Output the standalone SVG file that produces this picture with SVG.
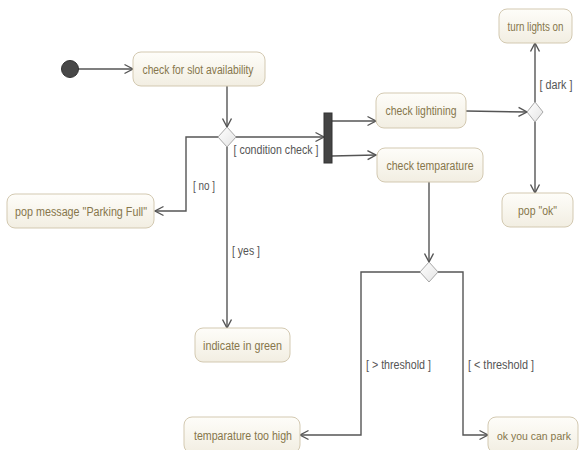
<svg xmlns="http://www.w3.org/2000/svg" width="579" height="450" viewBox="0 0 579 450">
<style>
.box{fill:url(#bg);stroke:#d3c9b1;stroke-width:1}
.bt{font-family:"Liberation Sans",Arial,sans-serif;font-size:12.5px;fill:#86764b;text-anchor:middle}
.lb{font-family:"Liberation Sans",Arial,sans-serif;font-size:12.5px;fill:#555;text-anchor:middle}
.ln{fill:none;stroke:#555;stroke-width:1.4;marker-end:url(#arr)}
.dm{fill:url(#dg);stroke:#a8a8a8;stroke-width:1}
</style>
<defs>
<linearGradient id="bg" x1="0" y1="0" x2="0" y2="1"><stop offset="0" stop-color="#fefdf9"/><stop offset="1" stop-color="#f2eee2"/></linearGradient>
<linearGradient id="dg" x1="0" y1="0" x2="1" y2="1"><stop offset="0" stop-color="#ffffff"/><stop offset="1" stop-color="#e4e4e4"/></linearGradient>
<marker id="arr" markerUnits="userSpaceOnUse" markerWidth="12" markerHeight="12" refX="9" refY="5" orient="auto" viewBox="0 0 12 10"><path d="M0.5,0.5 L9,5 L0.5,9.5" fill="none" stroke="#555" stroke-width="1.4"/></marker>
</defs>
<rect width="579" height="450" fill="#fff"/>
<g id="connectors">
<path class="ln" d="M78,69 L133,69"/>
<path class="ln" d="M227,86 L227,127"/>
<path class="ln" d="M218,137 L186,137 L186,211 L155,211"/>
<path class="ln" d="M227,147 L227,328"/>
<path class="ln" d="M236,137 L324,137"/>
<path class="ln" d="M332,121 L376,121"/>
<path class="ln" d="M332,156 L376,155"/>
<path class="ln" d="M466,111 L527,112"/>
<path class="ln" d="M535,102 L535,43"/>
<path class="ln" d="M535,122 L535,193"/>
<path class="ln" d="M429,182 L429,262"/>
<path class="ln" d="M420,272 L361,272 L361,435 L300,435"/>
<path class="ln" d="M438,272 L463,272 L463,435 L488,435"/>
<text class="lb" x="276" y="153.5" textLength="85" lengthAdjust="spacingAndGlyphs">[ condition check ]</text>
<text class="lb" x="204" y="190" textLength="22" lengthAdjust="spacingAndGlyphs">[ no ]</text>
<text class="lb" x="246" y="255" textLength="28" lengthAdjust="spacingAndGlyphs">[ yes ]</text>
<text class="lb" x="556" y="89" textLength="33" lengthAdjust="spacingAndGlyphs">[ dark ]</text>
<text class="lb" x="398.5" y="369" textLength="65" lengthAdjust="spacingAndGlyphs">[ &gt; threshold ]</text>
<text class="lb" x="501" y="369" textLength="66" lengthAdjust="spacingAndGlyphs">[ &lt; threshold ]</text>
</g>
<g id="start"><circle cx="70" cy="69" r="8.5" fill="#484848" stroke="#333" stroke-width="1"/></g>
<g id="slot"><rect class="box" x="133" y="52" width="132" height="34" rx="8"/><text class="bt" x="198" y="73.5" textLength="111" lengthAdjust="spacingAndGlyphs">check for slot availability</text></g>
<g id="d1"><polygon class="dm" points="227,127 236,137 227,147 218,137"/></g>
<g id="full"><rect class="box" x="7" y="194" width="147" height="34" rx="8"/><text class="bt" x="81" y="215.5" textLength="132" lengthAdjust="spacingAndGlyphs">pop message "Parking Full"</text></g>
<g id="green"><rect class="box" x="195" y="328" width="95" height="34" rx="8"/><text class="bt" x="242.5" y="349.5" textLength="79" lengthAdjust="spacingAndGlyphs">indicate in green</text></g>
<g id="fork"><rect x="324" y="113" width="8" height="50" fill="#444" stroke="#333" stroke-width="1"/></g>
<g id="light"><rect class="box" x="376" y="93" width="90" height="35" rx="8"/><text class="bt" x="421" y="115" textLength="71" lengthAdjust="spacingAndGlyphs">check lightining</text></g>
<g id="temp"><rect class="box" x="377" y="148" width="106" height="34" rx="8"/><text class="bt" x="430" y="169.5" textLength="87" lengthAdjust="spacingAndGlyphs">check temparature</text></g>
<g id="d2"><polygon class="dm" points="535,102 543,112 535,122 527,112"/></g>
<g id="on"><rect class="box" x="499" y="9" width="73" height="34" rx="8"/><text class="bt" x="535.5" y="30.5" textLength="56" lengthAdjust="spacingAndGlyphs">turn lights on</text></g>
<g id="ok"><rect class="box" x="502" y="193" width="71" height="34" rx="8"/><text class="bt" x="537.5" y="214.5" textLength="39" lengthAdjust="spacingAndGlyphs">pop "ok"</text></g>
<g id="d3"><polygon class="dm" points="429,262 438,272 429,282 420,272"/></g>
<g id="high"><rect class="box" x="184" y="417" width="116" height="36" rx="8"/><text class="bt" x="243" y="439.5" textLength="98" lengthAdjust="spacingAndGlyphs">temparature too high</text></g>
<g id="park"><rect class="box" x="488" y="417" width="90" height="36" rx="8"/><text class="bt" x="534" y="439.5" style="font-size:11.5px" textLength="74" lengthAdjust="spacingAndGlyphs">ok you can park</text></g>
</svg>
